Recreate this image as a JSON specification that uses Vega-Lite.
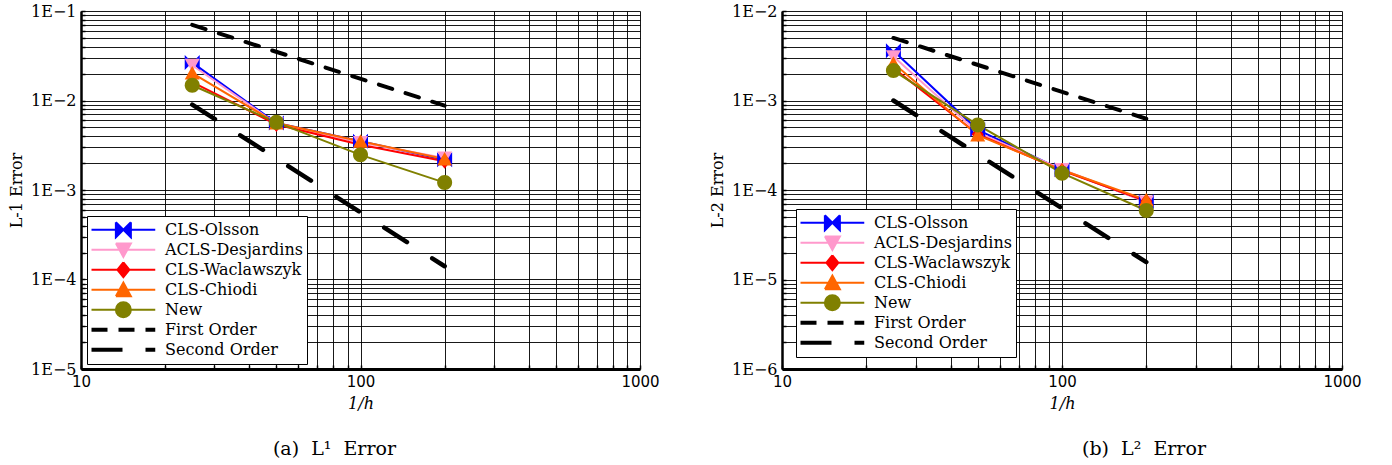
{
  "$schema": "https://vega.github.io/schema/vega-lite/v6.json",
  "padding": {"left": 8, "top": 3, "right": 5, "bottom": 5},
  "background": "white",
  "config": {
    "view": {"stroke": null},
    "font": "DejaVu Serif",
    "axis": {
      "grid": true, "gridColor": "#000000", "gridOpacity": 0.9, "gridWidth": 1,
      "domainColor": "#000000", "tickColor": "#000000", "labelColor": "#000000", "titleColor": "#000000",
      "ticks": true, "tickSize": -4, "tickWidth": 1.5
    },
    "title": {"font": "DejaVu Serif", "fontSize": 19, "fontWeight": "normal", "color": "#000000"}
  },
  "datasets": {
    "l1": [
      {"series": "First Order", "x": 25, "y": 0.07},
      {"series": "First Order", "x": 200, "y": 0.00875},
      {"series": "Second Order", "x": 25, "y": 0.009},
      {"series": "Second Order", "x": 200, "y": 0.000140625},
      {"series": "CLS-Olsson", "x": 25, "y": 0.0265},
      {"series": "CLS-Olsson", "x": 50, "y": 0.0056},
      {"series": "CLS-Olsson", "x": 100, "y": 0.0035},
      {"series": "CLS-Olsson", "x": 200, "y": 0.00218},
      {"series": "ACLS-Desjardins", "x": 25, "y": 0.0248},
      {"series": "ACLS-Desjardins", "x": 50, "y": 0.0055},
      {"series": "ACLS-Desjardins", "x": 100, "y": 0.0034},
      {"series": "ACLS-Desjardins", "x": 200, "y": 0.00228},
      {"series": "CLS-Waclawszyk", "x": 25, "y": 0.016},
      {"series": "CLS-Waclawszyk", "x": 50, "y": 0.0054},
      {"series": "CLS-Waclawszyk", "x": 100, "y": 0.0032},
      {"series": "CLS-Waclawszyk", "x": 200, "y": 0.0021},
      {"series": "CLS-Chiodi", "x": 25, "y": 0.0202},
      {"series": "CLS-Chiodi", "x": 50, "y": 0.0056},
      {"series": "CLS-Chiodi", "x": 100, "y": 0.0035},
      {"series": "CLS-Chiodi", "x": 200, "y": 0.00222},
      {"series": "New", "x": 25, "y": 0.0148},
      {"series": "New", "x": 50, "y": 0.0057},
      {"series": "New", "x": 100, "y": 0.00247},
      {"series": "New", "x": 200, "y": 0.00121}
    ],
    "l2": [
      {"series": "First Order", "x": 25, "y": 0.005},
      {"series": "First Order", "x": 200, "y": 0.000625},
      {"series": "Second Order", "x": 25, "y": 0.001},
      {"series": "Second Order", "x": 200, "y": 0.000015625},
      {"series": "CLS-Olsson", "x": 25, "y": 0.0036},
      {"series": "CLS-Olsson", "x": 50, "y": 0.00047},
      {"series": "CLS-Olsson", "x": 100, "y": 0.000168},
      {"series": "CLS-Olsson", "x": 200, "y": 0.0000745},
      {"series": "ACLS-Desjardins", "x": 25, "y": 0.0031},
      {"series": "ACLS-Desjardins", "x": 50, "y": 0.00044},
      {"series": "ACLS-Desjardins", "x": 100, "y": 0.00017},
      {"series": "ACLS-Desjardins", "x": 200, "y": 0.0000735},
      {"series": "CLS-Waclawszyk", "x": 25, "y": 0.0023},
      {"series": "CLS-Waclawszyk", "x": 50, "y": 0.00042},
      {"series": "CLS-Waclawszyk", "x": 100, "y": 0.000165},
      {"series": "CLS-Waclawszyk", "x": 200, "y": 0.000075},
      {"series": "CLS-Chiodi", "x": 25, "y": 0.0026},
      {"series": "CLS-Chiodi", "x": 50, "y": 0.00041},
      {"series": "CLS-Chiodi", "x": 100, "y": 0.000167},
      {"series": "CLS-Chiodi", "x": 200, "y": 0.0000775},
      {"series": "New", "x": 25, "y": 0.00216},
      {"series": "New", "x": 50, "y": 0.000534},
      {"series": "New", "x": 100, "y": 0.000154},
      {"series": "New", "x": 200, "y": 0.000059}
    ]
  },
  "spacing": 142,
  "bounds": "flush",
  "resolve": {"scale": {"x": "independent", "y": "independent"}, "legend": {"color": "independent", "shape": "independent"}},
  "hconcat": [
    {
      "width": 559, "height": 358,
      "title": {"text": "(a)\u00a0 L¹\u00a0 Error", "orient": "bottom", "offset": 29, "dx": -26},
      "data": {"name": "l1"},
      "encoding": {
        "x": {"field": "x", "type": "quantitative",
          "scale": {"type": "log", "domain": [10, 1000]},
          "axis": {"title": "1/h", "titleFont": "DejaVu Serif", "titleFontStyle": "italic", "titleFontWeight": "normal", "titleFontSize": 16, "titlePadding": 6,
            "values": [10,20,30,40,50,60,70,80,90,100,200,300,400,500,600,700,800,900,1000],
            "labelExpr": "datum.value == 10 || datum.value == 100 || datum.value == 1000 ? '' + datum.value : ''",
            "labelFont": "DejaVu Sans", "labelFontSize": 15, "labelFlush": false, "labelOverlap": false, "labelPadding": 9, "domainWidth": 3}},
        "y": {"field": "y", "type": "quantitative",
          "scale": {"type": "log", "domain": [0.00001, 0.1]},
          "axis": {"title": "L-1 Error", "titleFont": "DejaVu Serif", "titleFontWeight": "normal", "titleFontSize": 16, "titlePadding": 6,
            "values": [0.00001,0.00002,0.00003,0.00004,0.00005,0.00006,0.00007,0.00008,0.00009,0.0001,0.0002,0.0003,0.0004,0.0005,0.0006,0.0007,0.0008,0.0009,0.001,0.002,0.003,0.004,0.005,0.006,0.007,0.008,0.009,0.01,0.02,0.03,0.04,0.05,0.06,0.07,0.08,0.09,0.1],
            "labelExpr": "abs(log(datum.value)/LN10 - round(log(datum.value)/LN10)) < 0.001 ? '1E\u2212' + (-round(log(datum.value)/LN10)) : ''",
            "labelFont": "DejaVu Serif", "labelFontSize": 16, "labelOverlap": false, "labelFlush": false, "labelPadding": 9, "domainWidth": 2.5}}
      },
      "layer": [
        {
          "transform": [{"filter": "datum.series === 'First Order'"}],
          "mark": {"type": "line", "strokeWidth": 4, "strokeDash": [14, 14], "strokeCap": "round"},
          "encoding": {"color": {"field": "series", "type": "nominal",
            "scale": {"domain": ["CLS-Olsson","ACLS-Desjardins","CLS-Waclawszyk","CLS-Chiodi","New","First Order","Second Order"], "range": ["#0000ff","#ff99cc","#ff0000","#ff6600","#808000","#000000","#000000"]},
            "legend": {"title": null, "orient": "none", "legendX": 6, "legendY": 205, "strokeColor": "#000000", "fillColor": "#ffffff", "padding": 4, "rowPadding": 0, "clipHeight": 19.5, "symbolSize": 225, "labelOffset": 58, "labelFont": "DejaVu Serif", "labelFontSize": 16, "labelColor": "#000000", "labelLimit": 400,
              "encode": {"symbols": {"update": {
                "shape": {"signal": "datum.value==='CLS-Olsson'?'M-1,0H7.5M2.25,-1L3.25,0L2.25,1ZM4.25,-1L3.25,0L4.25,1Z':datum.value==='ACLS-Desjardins'?'M-1,0H7.5M2.25,-0.85L4.25,-0.85L3.25,0.95Z':datum.value==='CLS-Waclawszyk'?'M-1,0H7.5M3.25,-1L4.05,0L3.25,1L2.45,0Z':datum.value==='CLS-Chiodi'?'M-1,0H7.5M2.25,0.85L4.25,0.85L3.25,-0.95Z':datum.value==='New'?'M-1,0H7.5M4.25,0A1,1,0,1,1,2.25,0A1,1,0,1,1,4.25,0Z':'M-1,0H7.5'"},
                "fill": {"signal": "datum.value==='CLS-Olsson'?'#0000ff':datum.value==='ACLS-Desjardins'?'#ff99cc':datum.value==='CLS-Waclawszyk'?'#ff0000':datum.value==='CLS-Chiodi'?'#ff6600':datum.value==='New'?'#808000':'transparent'"},
                "stroke": {"signal": "datum.value==='CLS-Olsson'?'#0000ff':datum.value==='ACLS-Desjardins'?'#ff99cc':datum.value==='CLS-Waclawszyk'?'#ff0000':datum.value==='CLS-Chiodi'?'#ff6600':datum.value==='New'?'#808000':'#000000'"},
                "strokeWidth": {"signal": "datum.value==='First Order'||datum.value==='Second Order'?4:2"},
                "strokeDash": {"signal": "datum.value==='First Order'?[16,11]:datum.value==='Second Order'?[31,23,10,100]:[200,0]"},
                "opacity": {"value": 1}
              }}}}}}
        },
        {
          "transform": [{"filter": "datum.series === 'Second Order'"}],
          "mark": {"type": "line", "strokeWidth": 4.5, "strokeDash": [27, 30], "strokeCap": "round"},
          "encoding": {"color": {"field": "series", "type": "nominal"}}
        },
        {
          "transform": [{"filter": "datum.series !== 'First Order' && datum.series !== 'Second Order'"}],
          "mark": {"type": "line", "strokeWidth": 2},
          "encoding": {"color": {"field": "series", "type": "nominal"}}
        },
        {
          "transform": [{"filter": "datum.series !== 'First Order' && datum.series !== 'Second Order'"}],
          "mark": {"type": "point", "filled": true, "opacity": 1, "size": 225},
          "encoding": {"color": {"field": "series", "type": "nominal"},
            "shape": {"field": "series", "type": "nominal", "legend": null,
              "scale": {"domain": ["CLS-Olsson","ACLS-Desjardins","CLS-Waclawszyk","CLS-Chiodi","New"],
                "range": ["M-1,-1L0,0L-1,1ZM1,-1L0,0L1,1Z","M-1,-0.85L1,-0.85L0,0.95Z","M0,-1L0.8,0L0,1L-0.8,0Z","M-1,0.85L1,0.85L0,-0.95Z","M1,0A1,1,0,1,1,-1,0A1,1,0,1,1,1,0Z"]}}}
        }
      ]
    },
    {
      "width": 560, "height": 358,
      "title": {"text": "(b)\u00a0 L²\u00a0 Error", "orient": "bottom", "offset": 29, "dx": 82},
      "data": {"name": "l2"},
      "encoding": {
        "x": {"field": "x", "type": "quantitative",
          "scale": {"type": "log", "domain": [10, 1000]},
          "axis": {"title": "1/h", "titleFont": "DejaVu Serif", "titleFontStyle": "italic", "titleFontWeight": "normal", "titleFontSize": 16, "titlePadding": 6,
            "values": [10,20,30,40,50,60,70,80,90,100,200,300,400,500,600,700,800,900,1000],
            "labelExpr": "datum.value == 10 || datum.value == 100 || datum.value == 1000 ? '' + datum.value : ''",
            "labelFont": "DejaVu Sans", "labelFontSize": 15, "labelFlush": false, "labelOverlap": false, "labelPadding": 9, "domainWidth": 3}},
        "y": {"field": "y", "type": "quantitative",
          "scale": {"type": "log", "domain": [0.000001, 0.01]},
          "axis": {"title": "L-2 Error", "titleFont": "DejaVu Serif", "titleFontWeight": "normal", "titleFontSize": 16, "titlePadding": 6,
            "values": [0.000001,0.000002,0.000003,0.000004,0.000005,0.000006,0.000007,0.000008,0.000009,0.00001,0.00002,0.00003,0.00004,0.00005,0.00006,0.00007,0.00008,0.00009,0.0001,0.0002,0.0003,0.0004,0.0005,0.0006,0.0007,0.0008,0.0009,0.001,0.002,0.003,0.004,0.005,0.006,0.007,0.008,0.009,0.01],
            "labelExpr": "abs(log(datum.value)/LN10 - round(log(datum.value)/LN10)) < 0.001 ? '1E\u2212' + (-round(log(datum.value)/LN10)) : ''",
            "labelFont": "DejaVu Serif", "labelFontSize": 16, "labelOverlap": false, "labelFlush": false, "labelPadding": 9, "domainWidth": 2.5}}
      },
      "layer": [
        {
          "transform": [{"filter": "datum.series === 'First Order'"}],
          "mark": {"type": "line", "strokeWidth": 4, "strokeDash": [14, 14], "strokeCap": "round"},
          "encoding": {"color": {"field": "series", "type": "nominal",
            "scale": {"domain": ["CLS-Olsson","ACLS-Desjardins","CLS-Waclawszyk","CLS-Chiodi","New","First Order","Second Order"], "range": ["#0000ff","#ff99cc","#ff0000","#ff6600","#808000","#000000","#000000"]},
            "legend": {"title": null, "orient": "none", "legendX": 14, "legendY": 198, "strokeColor": "#000000", "fillColor": "#ffffff", "padding": 4, "rowPadding": 0, "clipHeight": 19.5, "symbolSize": 225, "labelOffset": 58, "labelFont": "DejaVu Serif", "labelFontSize": 16, "labelColor": "#000000", "labelLimit": 400,
              "encode": {"symbols": {"update": {
                "shape": {"signal": "datum.value==='CLS-Olsson'?'M-1,0H7.5M2.25,-1L3.25,0L2.25,1ZM4.25,-1L3.25,0L4.25,1Z':datum.value==='ACLS-Desjardins'?'M-1,0H7.5M2.25,-0.85L4.25,-0.85L3.25,0.95Z':datum.value==='CLS-Waclawszyk'?'M-1,0H7.5M3.25,-1L4.05,0L3.25,1L2.45,0Z':datum.value==='CLS-Chiodi'?'M-1,0H7.5M2.25,0.85L4.25,0.85L3.25,-0.95Z':datum.value==='New'?'M-1,0H7.5M4.25,0A1,1,0,1,1,2.25,0A1,1,0,1,1,4.25,0Z':'M-1,0H7.5'"},
                "fill": {"signal": "datum.value==='CLS-Olsson'?'#0000ff':datum.value==='ACLS-Desjardins'?'#ff99cc':datum.value==='CLS-Waclawszyk'?'#ff0000':datum.value==='CLS-Chiodi'?'#ff6600':datum.value==='New'?'#808000':'transparent'"},
                "stroke": {"signal": "datum.value==='CLS-Olsson'?'#0000ff':datum.value==='ACLS-Desjardins'?'#ff99cc':datum.value==='CLS-Waclawszyk'?'#ff0000':datum.value==='CLS-Chiodi'?'#ff6600':datum.value==='New'?'#808000':'#000000'"},
                "strokeWidth": {"signal": "datum.value==='First Order'||datum.value==='Second Order'?4:2"},
                "strokeDash": {"signal": "datum.value==='First Order'?[16,11]:datum.value==='Second Order'?[31,23,10,100]:[200,0]"},
                "opacity": {"value": 1}
              }}}}}}
        },
        {
          "transform": [{"filter": "datum.series === 'Second Order'"}],
          "mark": {"type": "line", "strokeWidth": 4.5, "strokeDash": [27, 30], "strokeCap": "round"},
          "encoding": {"color": {"field": "series", "type": "nominal"}}
        },
        {
          "transform": [{"filter": "datum.series !== 'First Order' && datum.series !== 'Second Order'"}],
          "mark": {"type": "line", "strokeWidth": 2},
          "encoding": {"color": {"field": "series", "type": "nominal"}}
        },
        {
          "transform": [{"filter": "datum.series !== 'First Order' && datum.series !== 'Second Order'"}],
          "mark": {"type": "point", "filled": true, "opacity": 1, "size": 225},
          "encoding": {"color": {"field": "series", "type": "nominal"},
            "shape": {"field": "series", "type": "nominal", "legend": null,
              "scale": {"domain": ["CLS-Olsson","ACLS-Desjardins","CLS-Waclawszyk","CLS-Chiodi","New"],
                "range": ["M-1,-1L0,0L-1,1ZM1,-1L0,0L1,1Z","M-1,-0.85L1,-0.85L0,0.95Z","M0,-1L0.8,0L0,1L-0.8,0Z","M-1,0.85L1,0.85L0,-0.95Z","M1,0A1,1,0,1,1,-1,0A1,1,0,1,1,1,0Z"]}}}
        }
      ]
    }
  ]
}
